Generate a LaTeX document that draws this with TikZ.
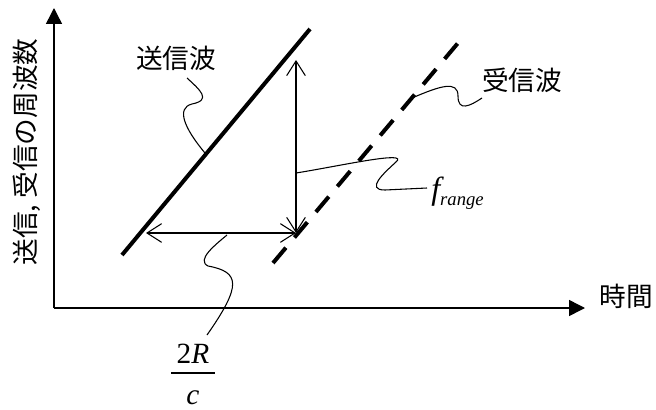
\documentclass[tikz,border=0pt]{standalone}
\usepackage{fontspec}
\newfontfamily\jp{Noto Sans CJK JP}
\newfontfamily\tnr{Liberation Serif}
\usetikzlibrary{arrows.meta}
\tikzset{
  axis/.style={line width=1.1pt,-{Triangle[length=12pt,width=12pt]}},
  txline/.style={line width=3pt},
  rxline/.style={line width=3pt,dash pattern=on 15pt off 10pt},
  dim/.style={line width=0.8pt,{Straight Barb[length=11pt,width=14pt]}-{Straight Barb[length=11pt,width=14pt]}},
  squig/.style={line width=0.8pt},
  jlabel/.style={font=\jp\fontsize{20}{24}\selectfont,inner sep=0pt},
}
\begin{document}
\begin{tikzpicture}[x=0.75pt,y=-0.75pt]
\useasboundingbox (0,0) rectangle (656,410);
% axes
\coordinate (O) at (54,308);
\coordinate (ytop) at (54,8);
\coordinate (xend) at (585,308);
\draw[axis] (O) -- (ytop);
\draw[axis] (O) -- (xend);
\node[jlabel] (xl) at (626,296) {時間};
\node[jlabel,rotate=90] (yl) at (27,152) {送信, 受信の周波数};
% transmitted and received
\coordinate (t1) at (122,255);
\coordinate (t2) at (310,29);
\draw[txline] (t1) -- (t2);
\coordinate (r1) at (273,263);
\coordinate (r2) at (458,43);
\draw[rxline] (r1) -- (r2);
% dimension arrows
\coordinate (vt) at (296,60);
\coordinate (vb) at (296,233);
\coordinate (hl) at (146,233);
\draw[dim] (vt) -- (vb);
\draw[dim] (hl) -- (vb);
% labels
\node[jlabel] (tx) at (176,58) {送信波};
\node[jlabel] (rx) at (522,80) {受信波};
\node[inner sep=0pt,anchor=base west] (fr) at (431,199) {\tnr\itshape\fontsize{24}{24}\selectfont f\raisebox{-5pt}{\fontsize{14}{14}\selectfont range}};
\node[inner sep=0pt,anchor=base] (num) at (193,363) {\tnr\fontsize{22}{22}\selectfont 2\textit{R}};
\node[inner sep=0pt,anchor=base] (den) at (193,404) {\tnr\fontsize{22}{22}\selectfont\textit{c}};
\draw[line width=1pt] ([shift={(-5,10)}]num.base west) -- ([shift={(5,10)}]num.base east);
% squiggles
\draw[squig] (187,78) .. controls (200,90) and (212,100) .. (192,104) .. controls (176,108) and (184,128) .. (205,153);
\draw[squig] (412,98) .. controls (440,86) and (458,80) .. (458,96) .. controls (458,112) and (470,106) .. (482,98);
\draw[squig] (296,173) .. controls (340,166) and (410,150) .. (396,162) .. controls (384,173) and (365,190) .. (385,190) -- (427,188);
\draw[squig] (227,235) .. controls (215,245) and (196,260) .. (208,266) .. controls (240,272) and (242,285) .. (207,335);
\end{tikzpicture}
\end{document}
